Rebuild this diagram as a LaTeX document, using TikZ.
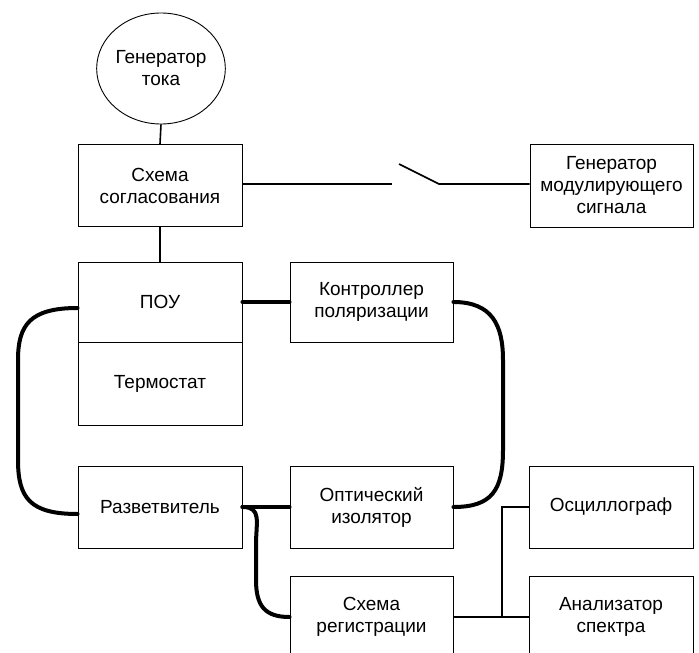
\documentclass[tikz,border=0pt]{standalone}
\usepackage{fontspec}
\setmainfont{Liberation Sans}
\usetikzlibrary{shapes.geometric}
\begin{document}
\begin{tikzpicture}[x=1pt,y=-1pt,
  box/.style={draw,line width=0.9pt,inner sep=0pt,minimum width=164pt,minimum height=82pt,align=center,font=\fontsize{19}{22}\selectfont},
  thin/.style={line width=1.6pt},
  fiber/.style={line width=4pt,line cap=round}]
\useasboundingbox (0,0) rectangle (699,653);
\clip (0,0) rectangle (699,653);
\node[draw,ellipse,line width=0.9pt,inner sep=0pt,minimum width=124pt,minimum height=111pt,align=center,font=\fontsize{19}{22}\selectfont] (gt) at (161,68.5) {Генератор\\тока};
\node[box] (sch) at (160,185.5) {Схема\\согласования};
\node[box,minimum width=163pt,minimum height=83pt] (gms) at (611.5,185.5) {Генератор\\модулирующего\\сигнала};
\node[box,minimum height=80pt] (pou) at (160,302) {ПОУ};
\node[box,minimum height=83pt] (term) at (160,383.5) {Термостат};
\node[box,minimum width=163pt,minimum height=80pt] (kp) at (371.5,302) {Контроллер\\поляризации};
\node[box] (razv) at (160,507) {Разветвитель};
\node[box,minimum width=163pt] (opt) at (371.5,507) {Оптический\\изолятор};
\node[box,minimum width=163pt] (reg) at (371.5,617) {Схема\\регистрации};
\node[box] (osc) at (611,507) {Осциллограф};
\node[box] (an) at (611,617) {Анализатор\\спектра};
% thin connectors
\draw[thin] (gt.south) -- (sch.north);
\draw[thin] (sch.south) -- (pou.north);
\coordinate (sw1) at (392,184);
\coordinate (swA) at (399,164);
\coordinate (swB) at (439,184);
\draw[thin] (sch.east |- sw1) -- (sw1);
\draw[thin] (swA) -- (swB) -- (gms.west |- swB);
\coordinate (jn) at (502,617);
\draw[thin] (reg.east |- jn) -- (an.west |- jn);
\draw[thin] (jn) -- (502,507) -- (osc.west);
% fibers
\draw[fiber] (pou.east) -- (kp.west);
\draw[fiber] (razv.east) -- (opt.west);
\draw[fiber] ([yshift=-6pt]pou.west) .. controls (30,308) and (18,325) .. (18,360) -- (18,460) .. controls (18,498) and (30,514) .. ([yshift=-7pt]razv.west);
\draw[fiber] (kp.east) .. controls (492,302) and (503,325) .. (503,360) -- (503,450) .. controls (503,490) and (492,507) .. (opt.east);
\draw[fiber] (razv.east) .. controls (262,507) and (256,522) .. (256,545) -- (256,580) .. controls (256,606) and (265,617) .. (reg.west);
\end{tikzpicture}
\end{document}
